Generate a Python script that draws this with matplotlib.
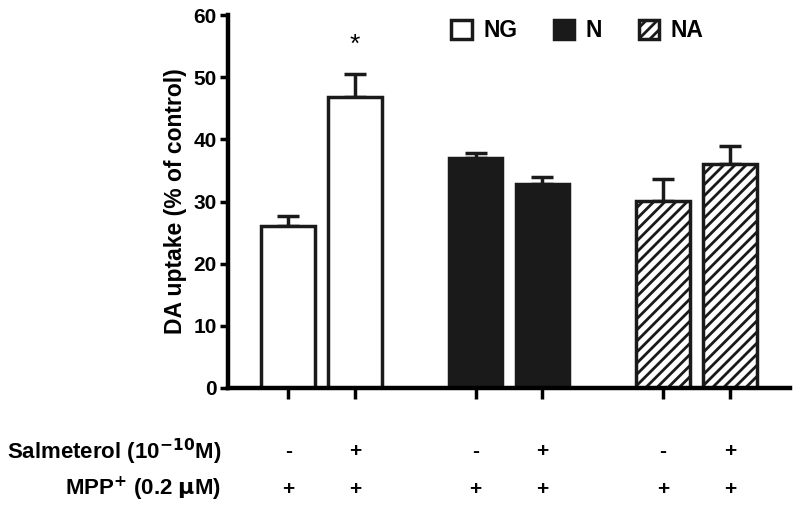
import matplotlib.pyplot as plt
import matplotlib as mpl

plt.rcParams['font.family'] = ['Liberation Sans', 'DejaVu Sans']
plt.rcParams['font.weight'] = 'bold'
mpl.rcParams['hatch.linewidth'] = 2.0

#bar positions and values
positions = [0, 1, 2.8, 3.8, 5.6, 6.6]
uptake = [26.1, 46.8, 37.0, 32.8, 30.1, 36.1]
sem = [1.6, 3.7, 0.8, 1.2, 3.6, 2.9]
groups = ['NG', 'NG', 'N', 'N', 'NA', 'NA']
salmeterol = ['-', '+', '-', '+', '-', '+']
mpp = ['+', '+', '+', '+', '+', '+']
yticks = [0, 10, 20, 30, 40, 50, 60]

styles = {'NG': dict(color='white', hatch=None),
          'N': dict(color='#1a1a1a', hatch=None),
          'NA': dict(color='white', hatch='///')}

fig = plt.figure(figsize=(8, 5.07), dpi=100)
ax = fig.add_axes([0.285, 0.235, 0.7025, 0.735])

handles = {}
for x, v, e, g in zip(positions, uptake, sem, groups):
    b = ax.bar(x, v, width=0.8, color=styles[g]['color'], edgecolor='#1a1a1a',
               linewidth=2.5, hatch=styles[g]['hatch'], zorder=2)
    ax.errorbar(x, v, yerr=[[0], [e]], fmt='none', ecolor='#1a1a1a',
                elinewidth=2.5, capsize=8, capthick=2.5, zorder=1)
    handles[g] = b

ax.text(positions[1], 53.3, '*', ha='center', va='bottom', fontsize=19, fontweight='normal')

ax.set_xlim(-0.9, 7.5)
ax.set_ylim(0, 60)
ax.set_yticks(yticks)
ax.set_xticks(positions)
ax.set_xticklabels([])
ax.tick_params(axis='y', width=2.5, length=6, labelsize=15, direction='out', pad=2)
ax.tick_params(axis='x', width=2.5, length=8, direction='out')
for lab in ax.get_yticklabels():
    lab.set_fontweight('bold')
ax.spines['top'].set_visible(False)
ax.spines['right'].set_visible(False)
ax.spines['left'].set_linewidth(3.2)
ax.spines['bottom'].set_linewidth(3.2)
ax.set_ylabel('DA uptake (% of control)', fontsize=16.5, fontweight='bold', labelpad=5)

tr = ax.get_xaxis_transform()
for x, s, m in zip(positions, salmeterol, mpp):
    ax.text(x, -0.172, s, transform=tr, ha='center', va='center', fontsize=15)
    ax.text(x, -0.272, m, transform=tr, ha='center', va='center', fontsize=15)
ax.text(-1.0, -0.172, 'Salmeterol (10$^{\\mathbf{-10}}$M)', transform=tr, ha='right',
        va='center', fontsize=16, fontweight='bold')
ax.text(-1.0, -0.272, 'MPP$^{\\mathbf{+}}$ (0.2 $\\mathbf{\\mu}$M)', transform=tr, ha='right',
        va='center', fontsize=16, fontweight='bold')

leg = ax.legend([handles['NG'], handles['N'], handles['NA']], ['NG', 'N', 'NA'],
                loc='upper left', bbox_to_anchor=(0.36, 1.045), ncol=3, frameon=False,
                handlelength=0.9, handleheight=0.9, handletextpad=0.5,
                columnspacing=1.6, prop={'size': 16.5, 'weight': 'bold'})

fig.savefig('out.png', dpi=100)
